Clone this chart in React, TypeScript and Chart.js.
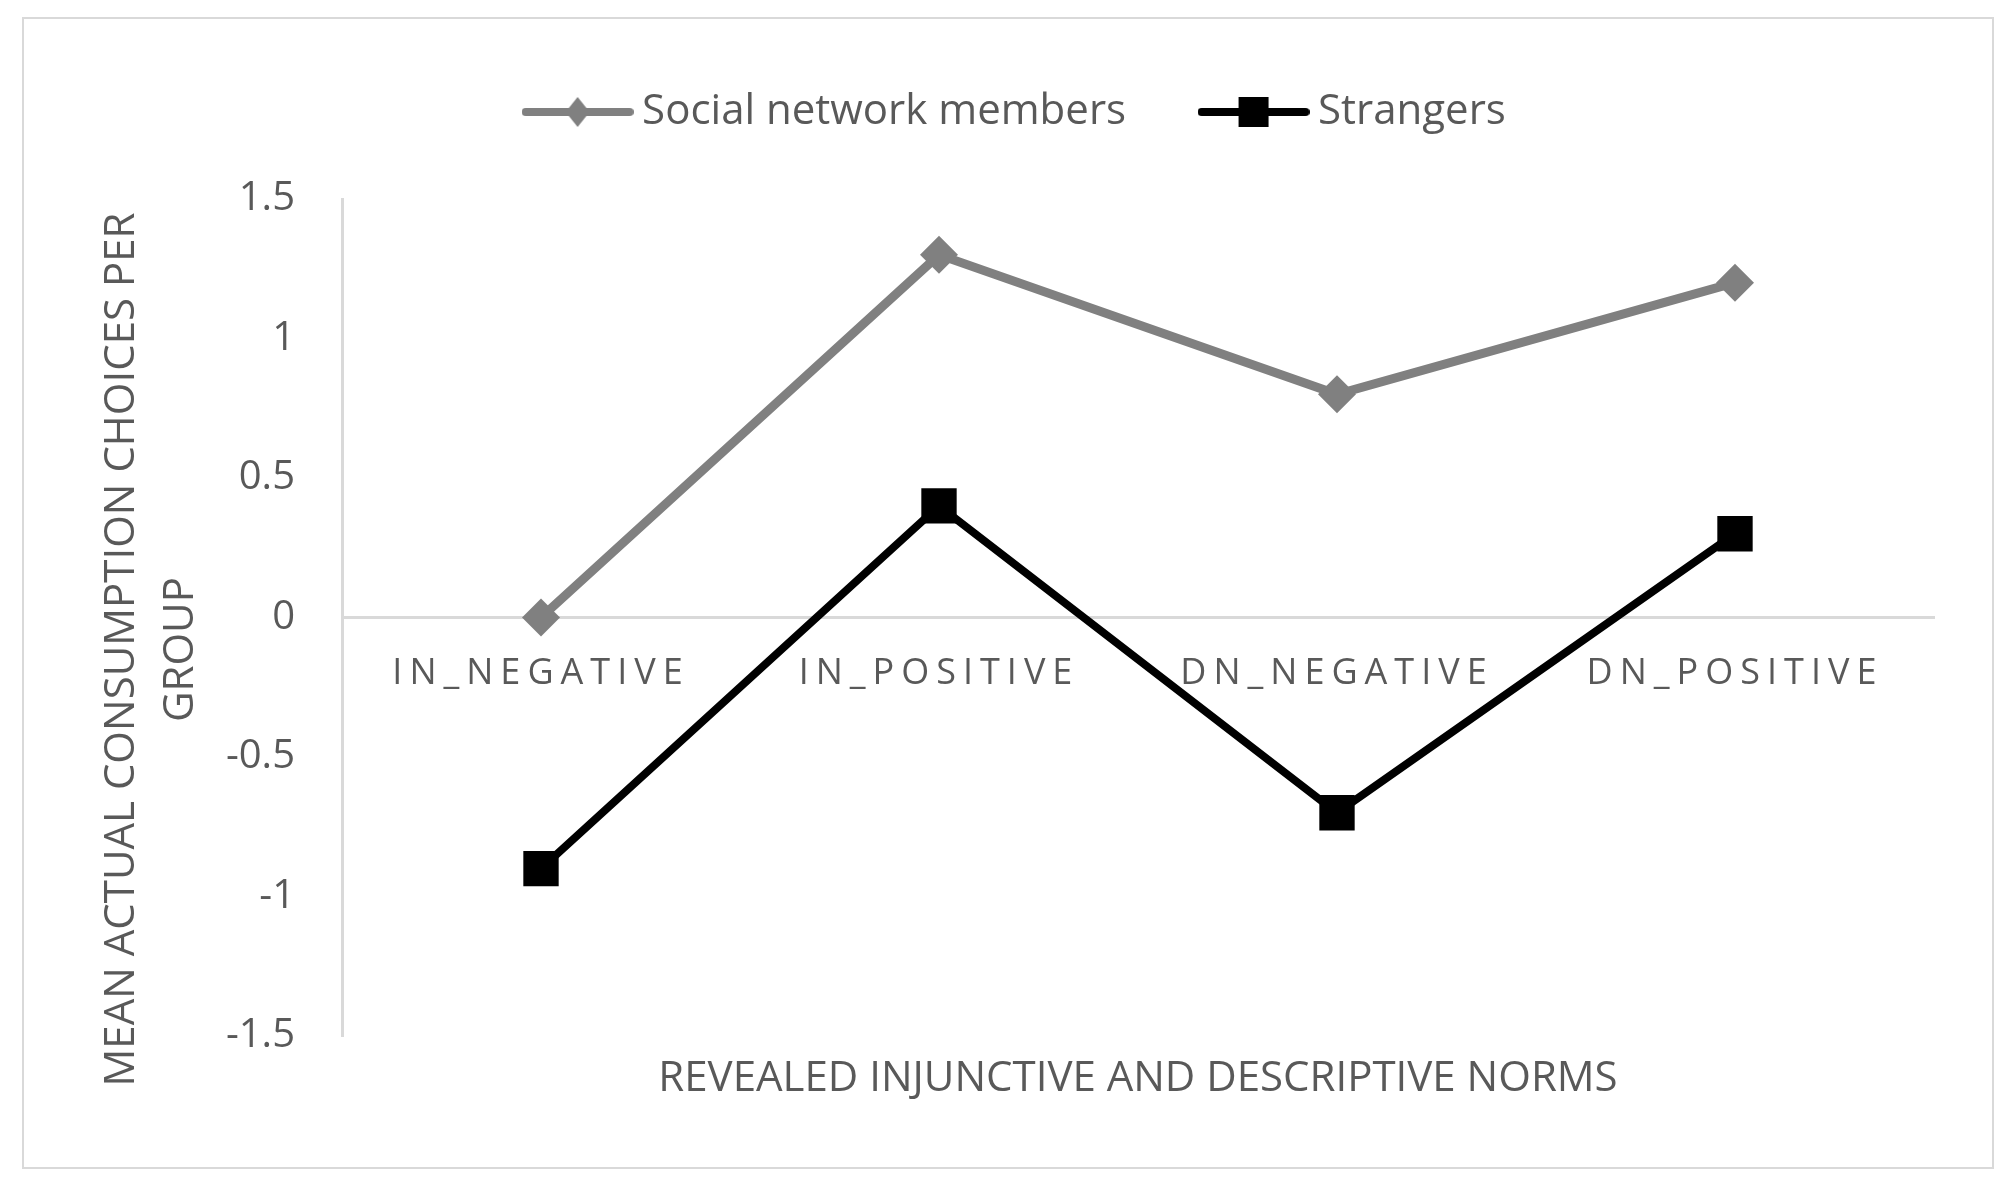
import React, { useEffect, useRef } from 'react';
import { Chart, registerables } from 'chart.js';

Chart.register(...registerables);

const categories = ['IN_NEGATIVE', 'IN_POSITIVE', 'DN_NEGATIVE', 'DN_POSITIVE'];
const seriesNames = ['Social network members', 'Strangers'];
const socialNetworkMembers = [0, 1.3, 0.8, 1.2];
const strangers = [-0.9, 0.4, -0.7, 0.3];
const yTickValues = [-1.5, -1, -0.5, 0, 0.5, 1, 1.5];
const xAxisTitle = 'REVEALED INJUNCTIVE AND DESCRIPTIVE NORMS';
const yAxisTitle = ['MEAN ACTUAL CONSUMPTION CHOICES PER', 'GROUP'];

const FONT = '"Open Sans", "DejaVu Sans", sans-serif';
const TEXT = '#595959';
const AXIS = '#d9d9d9';
const GRAY = '#808080';
const BLACK = '#000000';

const PAD_LEFT = 106;
const PLOT_LEFT = 342;

function makeIcon(color: string, marker: 'diamond' | 'square'): HTMLCanvasElement {
  const c = document.createElement('canvas');
  c.width = 112;
  c.height = 36;
  const g = c.getContext('2d')!;
  g.strokeStyle = color;
  g.lineWidth = 8;
  g.lineCap = 'round';
  g.beginPath();
  g.moveTo(4, 18);
  g.lineTo(108, 18);
  g.stroke();
  g.fillStyle = color;
  g.beginPath();
  if (marker === 'diamond') {
    g.moveTo(56, 3);
    g.lineTo(68, 18);
    g.lineTo(56, 33);
    g.lineTo(44, 18);
    g.closePath();
  } else {
    g.rect(41, 3, 30, 30);
  }
  g.fill();
  return c;
}

export default function App() {
  const ref = useRef<HTMLCanvasElement>(null);

  useEffect(() => {
    const canvas = ref.current!;
    const icons = [makeIcon(GRAY, 'diamond'), makeIcon(BLACK, 'square')];

    const extras = {
      id: 'extras',
      afterDatasetsDraw(chart: any) {
        // x tick labels (z: 1) are drawn after datasets, with wide letter spacing
        (chart.ctx as any).letterSpacing = '7px';
      },
      afterDraw(chart: any) {
        const ctx = chart.ctx as any;
        ctx.letterSpacing = '0px';
        const area = chart.chartArea;
        const cy = (area.top + area.bottom) / 2 + 32;
        ctx.save();
        ctx.fillStyle = TEXT;
        ctx.font = `42px ${FONT}`;
        ctx.textAlign = 'center';
        ctx.textBaseline = 'middle';
        const xs = [122, 181];
        yAxisTitle.forEach((line, i) => {
          ctx.save();
          ctx.translate(xs[i], cy);
          ctx.rotate(-Math.PI / 2);
          ctx.fillText(line, 0, 0);
          ctx.restore();
        });
        ctx.restore();
      },
    };

    const chart = new Chart(canvas, {
      type: 'line',
      data: {
        labels: categories,
        datasets: [
          {
            label: seriesNames[0],
            data: socialNetworkMembers,
            borderColor: GRAY,
            backgroundColor: GRAY,
            borderWidth: 9,
            pointStyle: 'rectRot',
            pointRadius: 19,
            pointHoverRadius: 19,
            pointBorderWidth: 0,
            pointBackgroundColor: GRAY,
            tension: 0,
            xAxisID: 'x',
            yAxisID: 'y',
          },
          {
            label: seriesNames[1],
            data: strangers,
            borderColor: BLACK,
            backgroundColor: BLACK,
            borderWidth: 8,
            pointStyle: 'rect',
            pointRadius: 25,
            pointHoverRadius: 25,
            pointBorderWidth: 0,
            pointBackgroundColor: BLACK,
            tension: 0,
            xAxisID: 'x',
            yAxisID: 'y',
          },
        ],
      },
      options: {
        responsive: false,
        animation: false,
        devicePixelRatio: 1,
        layout: { padding: { top: 7, left: PAD_LEFT, right: 80, bottom: 0 } },
        plugins: {
          tooltip: { enabled: false },
          legend: {
            display: true,
            position: 'top',
            align: 'center',
            labels: {
              usePointStyle: true,
              pointStyleWidth: 87,
              boxHeight: 42,
              padding: 84,
              color: TEXT,
              font: { family: FONT, size: 42 },
              generateLabels: (ch: any) =>
                ch.data.datasets.map((ds: any, i: number) => ({
                  text: ds.label,
                  pointStyle: icons[i],
                  fillStyle: ds.borderColor,
                  strokeStyle: ds.borderColor,
                  lineWidth: 0,
                  hidden: false,
                  datasetIndex: i,
                  fontColor: TEXT,
                })),
            },
          },
        },
        scales: {
          x: {
            type: 'category',
            position: { y: 0 } as any,
            offset: true,
            grid: { display: false, drawTicks: false },
            border: { display: true, color: AXIS, width: 3 },
            ticks: {
              color: TEXT,
              font: { family: FONT, size: 36 },
              padding: 35,
              maxRotation: 0,
              minRotation: 0,
              autoSkip: false,
              z: 1,
            },
          },
          xTop: {
            type: 'category',
            position: 'top',
            display: true,
            grid: { display: false, drawTicks: false },
            border: { display: false },
            ticks: { display: false },
            afterFit: (s: any) => {
              s.height = 56;
            },
          },
          xBottom: {
            type: 'category',
            position: 'bottom',
            display: true,
            grid: { display: false, drawTicks: false },
            border: { display: false },
            ticks: { display: false },
            title: {
              display: true,
              text: xAxisTitle,
              color: TEXT,
              font: { family: FONT, size: 42 },
              padding: { top: 0, bottom: 82 },
            },
            afterFit: (s: any) => {
              s.height = 150;
            },
          },
          y: {
            type: 'linear',
            position: 'left',
            min: -1.5,
            max: 1.5,
            grid: { display: false, drawTicks: false },
            border: { display: true, color: AXIS, width: 3 },
            ticks: {
              color: TEXT,
              font: { family: FONT, size: 40 },
              padding: 47,
              callback: (v: any) => String(v),
            },
            afterBuildTicks: (s: any) => {
              s.ticks = yTickValues.map((v) => ({ value: v }));
            },
            afterFit: (s: any) => {
              s.width = PLOT_LEFT - PAD_LEFT;
            },
          },
        },
      } as any,
      plugins: [extras],
    });

    return () => chart.destroy();
  }, []);

  return (
    <div style={{ position: 'absolute', left: 0, top: 0, width: 2014, height: 1186, background: '#ffffff' }}>
      <canvas ref={ref} width={2014} height={1186} style={{ display: 'block', width: 2014, height: 1186 }} />
      <div
        style={{
          position: 'absolute',
          left: 22,
          top: 17,
          width: 1968,
          height: 1148,
          border: `2px solid ${AXIS}`,
          pointerEvents: 'none',
        }}
      />
    </div>
  );
}
